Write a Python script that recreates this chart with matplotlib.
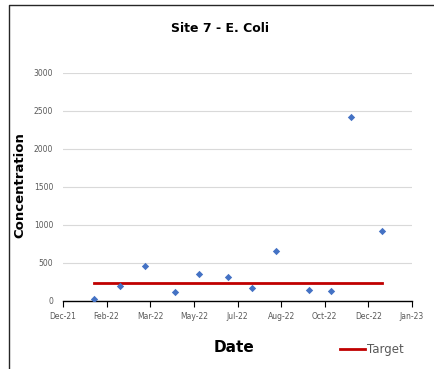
import numpy as np
import matplotlib.pyplot as plt
import matplotlib.dates as mdates
from matplotlib.lines import Line2D
import datetime as dt

# data
dates = ['2022-01-25', '2022-02-23', '2022-03-24', '2022-04-27', '2022-05-25', '2022-06-27',
         '2022-07-25', '2022-08-21', '2022-09-28', '2022-10-23', '2022-11-15', '2022-12-21']
ecoli = [20, 195, 455, 108, 350, 306, 165, 650, 140, 125, 2420, 917]
target = [235] * len(dates)
y_ticks = [0, 500, 1000, 1500, 2000, 2500, 3000]

x = [dt.datetime.strptime(d, '%Y-%m-%d') for d in dates]
x_start = dt.datetime(2021, 12, 20)
x_ticks = [x_start + dt.timedelta(days=50 * i) for i in range(9)]

fig = plt.figure(figsize=(4.34, 3.69), dpi=100)
ax = fig.add_axes([63 / 434, 1 - 300.5 / 369, 349 / 434, 227.5 / 369])

ax.plot(x, target, color='#C00000', linewidth=2, label='Target', zorder=2)
ax.scatter(x, ecoli, marker='D', s=14, color='#4472C4', zorder=3, linewidths=0)

ax.set_xlim(x_ticks[0], x_ticks[-1])
ax.set_ylim(0, 3000)
ax.set_yticks(y_ticks)
ax.set_xticks(x_ticks)
ax.xaxis.set_major_formatter(mdates.DateFormatter('%b-%y'))
ax.yaxis.grid(True, color='#D9D9D9', linewidth=0.8)
ax.set_axisbelow(True)

for s in ['top', 'right', 'left']:
    ax.spines[s].set_visible(False)
ax.spines['bottom'].set_color('black')
ax.spines['bottom'].set_linewidth(1)
ax.tick_params(axis='y', length=0, labelsize=5.5, labelcolor='#595959', pad=7)
ax.tick_params(axis='x', length=4, direction='out', color='black', labelsize=5.5,
               labelcolor='#595959', pad=4)

fig.text(220 / 434, 1 - 28 / 369, 'Site 7 - E. Coli', ha='center', va='center',
         fontsize=9, fontweight='bold')
fig.text(20 / 434, 1 - 185 / 369, 'Concentration', ha='center', va='center',
         rotation=90, fontsize=9.5, fontweight='bold')
fig.text(234 / 434, 1 - 347 / 369, 'Date', ha='center', va='center',
         fontsize=11, fontweight='bold')

# legend drawn by hand like the excel one
fig.add_artist(Line2D([340 / 434, 365 / 434], [1 - 349 / 369, 1 - 349 / 369],
                      color='#C00000', linewidth=2))
fig.text(367 / 434, 1 - 349 / 369, 'Target', ha='left', va='center',
         fontsize=8.5, color='#595959')

# chart frame, only left and top edges show in the crop
fl, ft = 9 / 434, 1 - 5 / 369
fig.add_artist(Line2D([fl, fl, 1], [0, ft, ft], color='#262626', linewidth=1))

fig.savefig('out.png', dpi=100)
